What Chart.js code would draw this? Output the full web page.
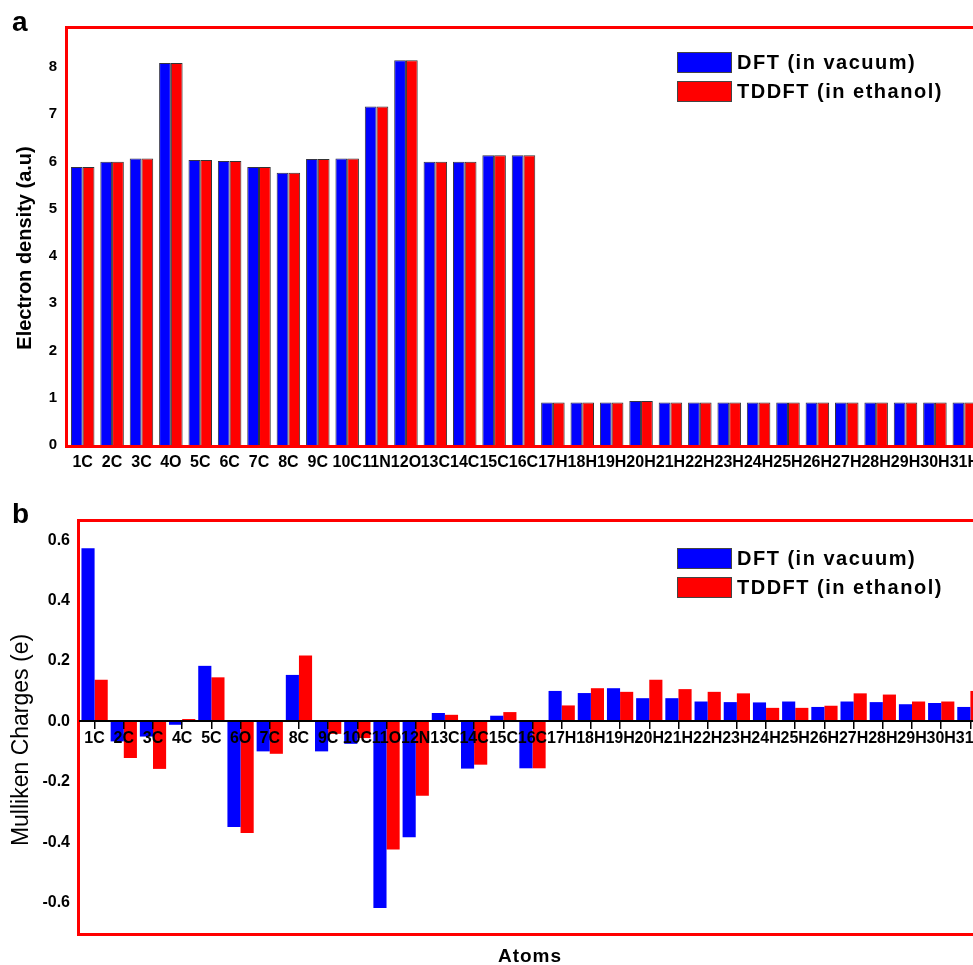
<!DOCTYPE html>
<html>
<head>
<meta charset="utf-8">
<script src="https://cdn.jsdelivr.net/npm/chart.js@4.4.1/dist/chart.umd.min.js"></script>
<style>
  html, body { margin: 0; padding: 0; background: #fff; overflow: hidden; width: 973px; height: 965px; }
  canvas { position: absolute; left: 0; }
  #chartA { top: 0; }
  #chartB { top: 480px; }
</style>
</head>
<body>
<canvas id="chartA" width="1000" height="480"></canvas>
<canvas id="chartB" width="1000" height="485"></canvas>
<script>
// atom labels (the two panels use a different numbering)
const atomsA = ['1C','2C','3C','4O','5C','6C','7C','8C','9C','10C','11N','12O','13C','14C','15C','16C',
  '17H','18H','19H','20H','21H','22H','23H','24H','25H','26H','27H','28H','29H','30H','31H'];
const atomsB = ['1C','2C','3C','4C','5C','6O','7C','8C','9C','10C','11O','12N','13C','14C','15C','16C',
  '17H','18H','19H','20H','21H','22H','23H','24H','25H','26H','27H','28H','29H','30H','31H'];

const seriesNames = ['DFT (in vacuum)', 'TDDFT (in ethanol)'];

// panel a: electron density
const densityDFT = [5.88, 5.99, 6.06, 8.08, 6.03, 6.01, 5.88, 5.76, 6.05, 6.06, 7.16, 8.14, 5.99, 5.99, 6.13, 6.13,
  0.9, 0.9, 0.9, 0.93, 0.9, 0.9, 0.9, 0.9, 0.9, 0.9, 0.9, 0.9, 0.9, 0.9, 0.9];
const densityTDDFT = [5.88, 5.99, 6.06, 8.08, 6.03, 6.01, 5.88, 5.76, 6.05, 6.06, 7.16, 8.14, 5.99, 5.99, 6.13, 6.13,
  0.9, 0.9, 0.9, 0.93, 0.9, 0.9, 0.9, 0.9, 0.9, 0.9, 0.9, 0.9, 0.9, 0.9, 0.9];

// panel b: Mulliken charges
const chargeDFT = [0.573, -0.066, -0.05, -0.011, 0.184, -0.349, -0.099, 0.154, -0.099, -0.074, -0.617, -0.383, 0.028, -0.156, 0.019, -0.155,
  0.101, 0.094, 0.110, 0.077, 0.077, 0.066, 0.064, 0.063, 0.066, 0.048, 0.066, 0.064, 0.057, 0.061, 0.048];
const chargeTDDFT = [0.138, -0.121, -0.157, 0.008, 0.146, -0.369, -0.107, 0.218, -0.041, -0.055, -0.424, -0.246, 0.022, -0.143, 0.031, -0.155,
  0.053, 0.110, 0.098, 0.138, 0.107, 0.098, 0.093, 0.045, 0.045, 0.052, 0.093, 0.089, 0.066, 0.066, 0.101];

const densityTicks = [0, 1, 2, 3, 4, 5, 6, 7, 8];
const chargeTicks = [-0.6, -0.4, -0.2, 0, 0.2, 0.4, 0.6];

const BLUE = '#0000ff';
const RED = '#ff0000';
const FONT = '"Liberation Sans", Arial, sans-serif';

Chart.defaults.font.family = FONT;
Chart.defaults.color = '#000';

// red frame round the plot area, boxed legend, free texts
function decor(legendX, legendY, texts) {
  return {
    id: 'decor',
    afterDatasetsDraw(chart) {
      const { ctx, chartArea: a } = chart;
      ctx.save();
      ctx.strokeStyle = RED;
      ctx.lineWidth = 3;
      ctx.strokeRect(a.left - 1.5, a.top - 1.5, a.right - a.left + 3, a.bottom - a.top + 3);
      ctx.restore();
    },
    afterDraw(chart) {
      const ctx = chart.ctx;
      ctx.save();
      chart.data.datasets.forEach((ds, i) => {
        const y = legendY + i * 29;
        ctx.fillStyle = ds.backgroundColor;
        ctx.fillRect(legendX, y, 55, 21);
        ctx.strokeStyle = '#444';
        ctx.lineWidth = 1;
        ctx.strokeRect(legendX + 0.5, y + 0.5, 54, 20);
        ctx.fillStyle = '#000';
        ctx.font = 'bold 20px ' + FONT;
        ctx.letterSpacing = '1.5px';
        ctx.textAlign = 'left';
        ctx.textBaseline = 'middle';
        ctx.fillText(ds.label, legendX + 60, y + 11);
      });
      texts.forEach(t => {
        ctx.save();
        ctx.translate(t.x, t.y);
        if (t.rotate) ctx.rotate(-Math.PI / 2);
        ctx.font = t.font;
        ctx.letterSpacing = t.spacing || '0px';
        ctx.textAlign = t.align || 'left';
        ctx.textBaseline = 'middle';
        ctx.fillStyle = '#000';
        ctx.fillText(t.text, 0, 0);
        ctx.restore();
      });
      ctx.restore();
    }
  };
}

new Chart(document.getElementById('chartA'), {
  type: 'bar',
  data: {
    labels: atomsA,
    datasets: [
      { label: seriesNames[0], data: densityDFT, backgroundColor: BLUE, borderColor: '#334', borderWidth: 1 },
      { label: seriesNames[1], data: densityTDDFT, backgroundColor: RED, borderColor: '#333', borderWidth: 1 }
    ]
  },
  options: {
    responsive: false,
    animation: false,
    categoryPercentage: 0.8,
    barPercentage: 1.0,
    layout: { padding: { top: 29, left: 0, right: 21, bottom: 5 } },
    plugins: { legend: { display: false }, tooltip: { enabled: false } },
    scales: {
      x: {
        grid: { display: false, drawTicks: false },
        border: { display: false },
        ticks: { autoSkip: false, maxRotation: 0, padding: 8, font: { size: 16, weight: 'bold' } },
        afterFit: s => { s.height = 30; }
      },
      y: {
        min: 0,
        max: 8.8,
        grid: { display: false, drawTicks: false },
        border: { display: false },
        afterBuildTicks: s => { s.ticks = densityTicks.map(v => ({ value: v })); },
        ticks: { padding: 11, font: { size: 15, weight: 'bold' } },
        afterFit: s => { s.width = 68; }
      }
    }
  },
  plugins: [decor(677, 52, [
    { text: 'a', x: 12, y: 23, font: 'bold 28px ' + FONT },
    { text: 'Electron density (a.u)', x: 25, y: 248, rotate: true, align: 'center', font: 'bold 20px ' + FONT }
  ])]
});

new Chart(document.getElementById('chartB'), {
  type: 'bar',
  data: {
    labels: atomsB,
    datasets: [
      { label: seriesNames[0], data: chargeDFT, backgroundColor: BLUE, borderWidth: 0 },
      { label: seriesNames[1], data: chargeTDDFT, backgroundColor: RED, borderWidth: 0 }
    ]
  },
  options: {
    responsive: false,
    animation: false,
    categoryPercentage: 0.9,
    barPercentage: 1.0,
    layout: { padding: { top: 42, left: 0, right: 15, bottom: 32 } },
    plugins: { legend: { display: false }, tooltip: { enabled: false } },
    scales: {
      x: {
        position: { y: 0 },
        grid: { display: true, z: 1, drawOnChartArea: false, drawTicks: true, tickLength: 7, color: '#000', lineWidth: 1.5, offset: false },
        border: { display: true, z: 1, color: '#000', width: 2 },
        ticks: { z: 1, autoSkip: false, maxRotation: 0, padding: 1, font: { size: 16, weight: 'bold' } }
      },
      y: {
        min: -0.7,
        max: 0.66,
        grid: { display: false, drawTicks: false },
        border: { display: false },
        afterBuildTicks: s => { s.ticks = chargeTicks.map(v => ({ value: v })); },
        ticks: { padding: 10, font: { size: 16, weight: 'bold' }, callback: v => v.toFixed(1) },
        afterFit: s => { s.width = 80; }
      }
    }
  },
  plugins: [decor(677, 68, [
    { text: 'b', x: 12, y: 35, font: 'bold 28px ' + FONT },
    { text: 'Mulliken Charges (e)', x: 22, y: 260, rotate: true, align: 'center', font: '23px ' + FONT },
    { text: 'Atoms', x: 530, y: 477, align: 'center', spacing: '1px', font: 'bold 19px ' + FONT }
  ])]
});
</script>
</body>
</html>
